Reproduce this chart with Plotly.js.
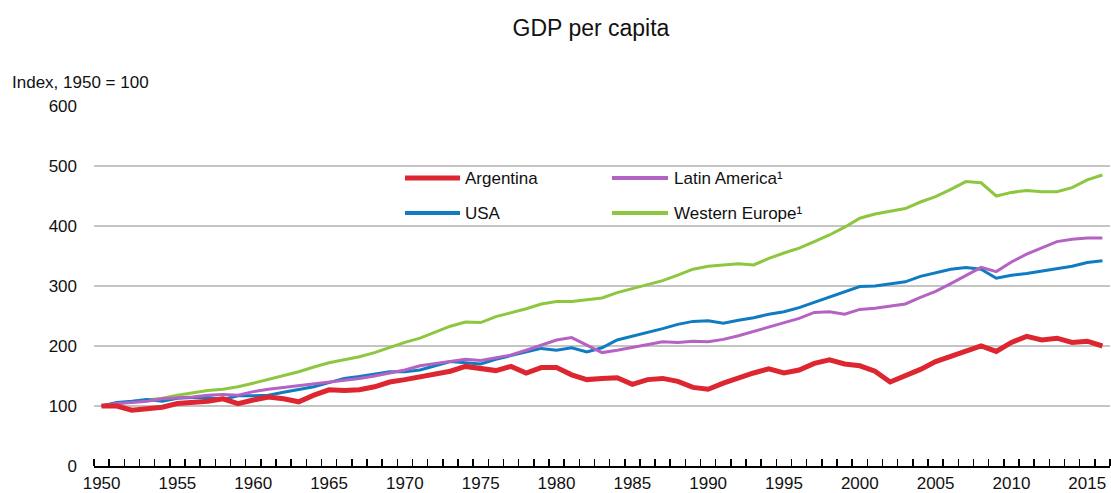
<!DOCTYPE html>
<html>
<head>
<meta charset="utf-8">
<script src="https://cdn.plot.ly/plotly-3.0.1.min.js"></script>
<style>html,body{margin:0;padding:0;background:#fff}#chart{width:1111px;height:493px}</style>
</head>
<body>
<div id="chart"></div>
<script>
var years = [];
for (var y = 1950; y <= 2016; y++) years.push(y);

var argentina = [100,100,93,96,98,104,105,108,112,104,110,115,112,107,118,127,126,127,132,140,
  144,149,152,158,166,162,159,166,155,164,164,152,144,146,147,136,144,146,141,131,
  128,138,147,155,162,155,160,171,177,170,167,158,140,150,161,174,183,193,200,191,
  206,216,210,213,206,208,200];
var latinAmerica = [100,104,106,108,112,113,115,118,119,118,124,128,131,134,137,139,143,146,150,155,
  160,167,171,175,178,176,181,185,193,201,210,214,201,189,193,198,202,207,206,208,
  207,211,217,224,232,238,246,256,257,253,261,263,266,270,281,291,304,318,331,324,
  340,353,364,374,378,380,380];
var usa = [100,106,108,111,108,113,114,114,111,117,117,118,123,127,132,139,146,149,153,157,
  157,160,167,174,172,170,178,184,191,196,193,197,190,197,210,216,223,229,236,241,
  242,238,243,247,253,257,264,273,281,290,299,300,303,307,316,322,328,331,328,313,
  318,321,325,328,333,339,342];
var westernEurope = [100,104,107,110,113,118,122,126,128,132,138,144,151,157,165,172,177,182,189,198,
  206,213,223,233,240,239,249,255,262,270,274,274,277,280,289,296,303,309,318,328,
  333,335,337,335,346,355,363,374,385,398,413,420,424,429,440,449,461,474,472,450,
  456,459,457,457,464,477,485];

var seriesNames = ['Argentina', 'Latin America\u00B9', 'USA', 'Western Europe\u00B9'];
var seriesData = [argentina, latinAmerica, usa, westernEurope];
var colors = ['#DD2630', '#B463C3', '#0F7BC2', '#8DC63F'];
var widths = [5, 3, 3, 3];
var legendWidths = [5, 4, 4, 4];
var yTicks = [0, 100, 200, 300, 400, 500, 600];
var xTickYears = [1950,1955,1960,1965,1970,1975,1980,1985,1990,1995,2000,2005,2010,2015];

// draw order: back to front
var order = [3, 2, 1, 0];
var traces = order.map(function (i) {
  return {
    x: years, y: seriesData[i], name: seriesNames[i], type: 'scatter', mode: 'lines',
    line: {color: colors[i], width: widths[i]}, showlegend: false, hoverinfo: 'skip'
  };
});

// custom legend (pixel positions converted to paper coords)
var L = 94, W = 1016, B = 466, H = 360;
function px(x) { return (x - L) / W; }
function py(y) { return (B - y) / H; }
var legendPos = [
  {x0: 405, x1: 460, y: 178, tx: 463},
  {x0: 612, x1: 668, y: 178, tx: 672},
  {x0: 405, x1: 460, y: 213, tx: 463},
  {x0: 612, x1: 668, y: 213, tx: 672}
];
var shapes = [], annotations = [];
legendPos.forEach(function (p, i) {
  shapes.push({type: 'line', xref: 'paper', yref: 'paper', x0: px(p.x0), x1: px(p.x1),
    y0: py(p.y), y1: py(p.y), line: {color: colors[i], width: legendWidths[i]}});
  annotations.push({xref: 'paper', yref: 'paper', x: px(p.tx), y: py(p.y), xanchor: 'left',
    yanchor: 'middle', text: seriesNames[i], showarrow: false,
    font: {size: 17, color: '#111'}});
});
annotations.push({xref: 'paper', yref: 'paper', x: px(10), y: py(82), xanchor: 'left',
  yanchor: 'middle', text: 'Index, 1950 = 100', showarrow: false, font: {size: 17, color: '#111'}});

var layout = {
  width: 1111, height: 493,
  margin: {l: 94, r: 1, t: 106, b: 27, pad: 0},
  paper_bgcolor: '#fff', plot_bgcolor: '#fff',
  font: {family: '"Liberation Sans", Arial, sans-serif', size: 17, color: '#111'},
  title: {text: 'GDP per capita', font: {size: 23, color: '#111'},
    x: 591 / 1111, xref: 'container', xanchor: 'center',
    y: 1 - 28 / 493, yref: 'container', yanchor: 'middle'},
  xaxis: {
    range: [1949.5, 2016.5], tickmode: 'array', tickvals: xTickYears,
    ticktext: xTickYears.map(String), ticks: '', showgrid: false, zeroline: false,
    showline: true, linecolor: '#000', linewidth: 1.5, ticklabelstandoff: 1,
    tickfont: {size: 17, color: '#111'},
    minor: {ticks: 'inside', tick0: 1949.5, dtick: 1, ticklen: 7, tickwidth: 1.5,
      tickcolor: '#000', showgrid: false}
  },
  yaxis: {
    range: [0, 600], tickmode: 'array', tickvals: yTicks, ticktext: yTicks.map(String),
    ticks: '', showgrid: true, gridcolor: '#C4C4C4', gridwidth: 2, zeroline: false,
    showline: false, ticklabelstandoff: 16, tickfont: {size: 17, color: '#111'}
  },
  shapes: shapes,
  annotations: annotations,
  showlegend: false
};

Plotly.newPlot('chart', traces, layout, {displayModeBar: false, staticPlot: true});
</script>
</body>
</html>
